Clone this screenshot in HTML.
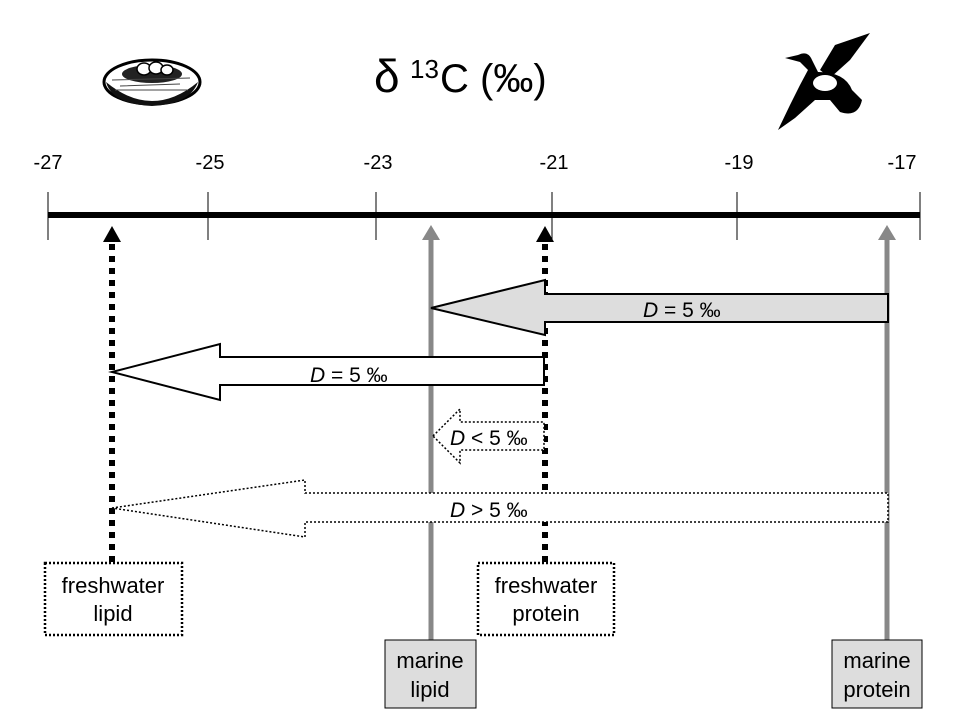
<!DOCTYPE html>
<html><head><meta charset="utf-8"><style>
html,body{margin:0;padding:0;background:#fff;}
svg{display:block;}
text{font-family:"Liberation Sans",Arial,sans-serif;}
</style></head><body>
<svg width="960" height="720" viewBox="0 0 960 720" xmlns="http://www.w3.org/2000/svg">
<rect width="960" height="720" fill="#fff"/>
<!-- title -->
<text x="374" y="92" font-size="46" font-family="Liberation Serif">δ</text>
<text x="410" y="78" font-size="26">13</text>
<text x="440" y="92" font-size="40">C (‰)</text>
<!-- nest -->
<g>
<ellipse cx="152" cy="82" rx="48" ry="22" fill="#fff" stroke="#000" stroke-width="3"/>
<path d="M106 82 Q152 120 198 82 Q190 104 152 106 Q112 104 106 82Z" fill="#111"/>
<ellipse cx="152" cy="74" rx="30" ry="9" fill="#222"/>
<ellipse cx="144" cy="69" rx="7" ry="6" fill="#fff" stroke="#000" stroke-width="1.5"/>
<ellipse cx="156" cy="68" rx="7" ry="6" fill="#fff" stroke="#000" stroke-width="1.5"/>
<ellipse cx="167" cy="70" rx="6" ry="5" fill="#fff" stroke="#000" stroke-width="1.5"/>
<path d="M112 80 L190 78 M115 90 L188 90 M120 86 L180 84" stroke="#444" stroke-width="1"/>
</g>
<!-- duck -->
<g fill="#000">
<path d="M870 33 L835 45 L820 70 L830 78 L850 60Z"/>
<path d="M785 58 L798 55 Q808 50 812 60 L818 72 Q845 72 852 90 L862 100 Q858 118 840 112 L830 100 L815 100 L795 118 L778 130 L790 105 L800 85 L808 70 L800 62Z"/>
<ellipse cx="825" cy="83" rx="12" ry="8" fill="#fff"/>
</g>
<!-- ticks -->
<g stroke="#000" stroke-width="1">
<line x1="48" y1="192" x2="48" y2="240"/>
<line x1="208" y1="192" x2="208" y2="240"/>
<line x1="376" y1="192" x2="376" y2="240"/>
<line x1="552" y1="192" x2="552" y2="240"/>
<line x1="737" y1="192" x2="737" y2="240"/>
<line x1="920" y1="192" x2="920" y2="240"/>
</g>
<line x1="48" y1="215" x2="920" y2="215" stroke="#000" stroke-width="6"/>
<g font-size="20" text-anchor="middle">
<text x="48" y="169">-27</text><text x="210" y="169">-25</text><text x="378" y="169">-23</text>
<text x="554" y="169">-21</text><text x="739" y="169">-19</text><text x="902" y="169">-17</text>
</g>
<!-- vertical lines -->
<line x1="431" y1="238" x2="431" y2="641" stroke="#888" stroke-width="5"/>
<polygon points="431,225 422,240 440,240" fill="#888"/>
<line x1="887" y1="238" x2="887" y2="641" stroke="#888" stroke-width="5"/>
<polygon points="887,225 878,240 896,240" fill="#888"/>
<line x1="112" y1="244" x2="112" y2="563" stroke="#000" stroke-width="6" stroke-dasharray="6,6"/>
<polygon points="112,226 103,242 121,242" fill="#000"/>
<line x1="545" y1="244" x2="545" y2="563" stroke="#000" stroke-width="6" stroke-dasharray="6,6"/>
<polygon points="545,226 536,242 554,242" fill="#000"/>
<!-- arrows -->
<polygon points="431,308 545,280 545,294 888,294 888,322 545,322 545,335" fill="#ddd" stroke="#000" stroke-width="2"/>
<text x="643" y="317" font-size="21"><tspan font-style="italic">D</tspan> = 5 ‰</text>
<polygon points="112,372 220,344 220,357 544,357 544,385 220,385 220,400" fill="#fff" stroke="#000" stroke-width="2"/>
<text x="310" y="382" font-size="21"><tspan font-style="italic">D</tspan> = 5 ‰</text>
<polygon points="433,436 460,409 460,422 544,422 544,450 460,450 460,463" fill="#fff" stroke="#000" stroke-width="1.5" stroke-dasharray="2,2"/>
<text x="450" y="445" font-size="21"><tspan font-style="italic">D</tspan> &lt; 5 ‰</text>
<polygon points="112,508 305,480 305,493 888,493 888,522 305,522 305,537" fill="#fff" stroke="#000" stroke-width="1.5" stroke-dasharray="2,2"/>
<text x="450" y="517" font-size="21"><tspan font-style="italic">D</tspan> &gt; 5 ‰</text>
<!-- boxes -->
<rect x="45" y="563" width="137" height="72" fill="#fff" stroke="#000" stroke-width="2.5" stroke-dasharray="2,2"/>
<text x="113" y="593" font-size="22" text-anchor="middle">freshwater</text>
<text x="113" y="621" font-size="22" text-anchor="middle">lipid</text>
<rect x="478" y="563" width="136" height="72" fill="#fff" stroke="#000" stroke-width="2.5" stroke-dasharray="2,2"/>
<text x="546" y="593" font-size="22" text-anchor="middle">freshwater</text>
<text x="546" y="621" font-size="22" text-anchor="middle">protein</text>
<rect x="385" y="640" width="91" height="68" fill="#ddd" stroke="#000" stroke-width="1"/>
<text x="430" y="668" font-size="22" text-anchor="middle">marine</text>
<text x="430" y="697" font-size="22" text-anchor="middle">lipid</text>
<rect x="832" y="640" width="90" height="68" fill="#ddd" stroke="#000" stroke-width="1"/>
<text x="877" y="668" font-size="22" text-anchor="middle">marine</text>
<text x="877" y="697" font-size="22" text-anchor="middle">protein</text>
</svg>
</body></html>
